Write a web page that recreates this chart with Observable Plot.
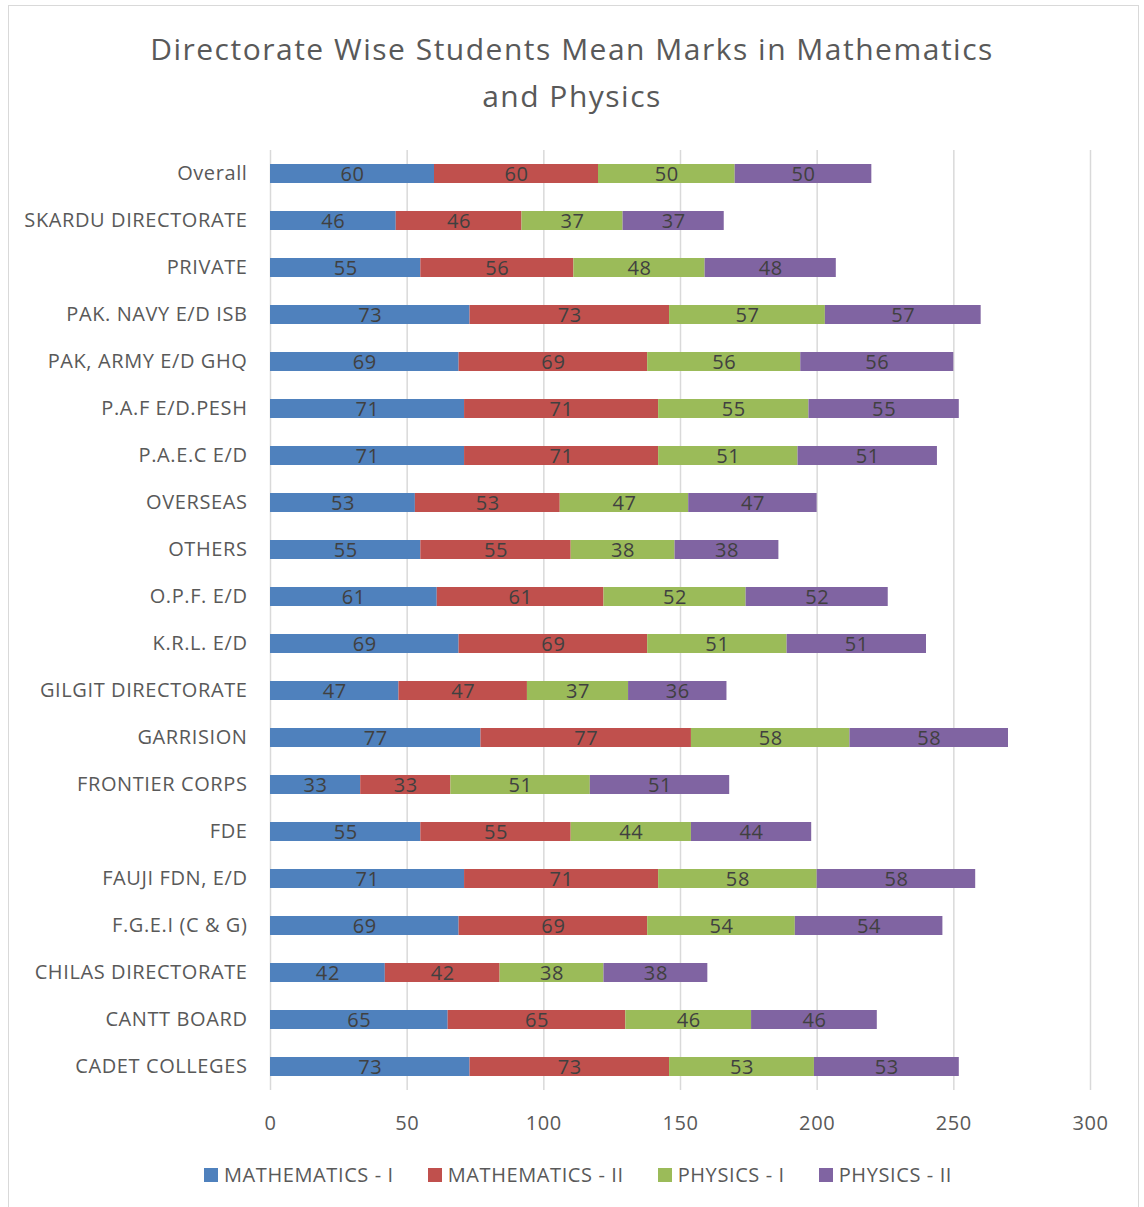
<!DOCTYPE html>
<html><head><meta charset="utf-8">
<script src="https://cdn.jsdelivr.net/npm/d3@7"></script>
<script src="https://cdn.jsdelivr.net/npm/@observablehq/plot@0.6"></script>
<style>
body{margin:0;background:#fff;font-family:"Open Sans",Lato,sans-serif;}
#frame{position:absolute;left:8px;top:5px;width:1131px;height:1210px;border:1px solid #d9d9d9;box-sizing:border-box}
#title{position:absolute;left:0;width:1144px;top:25px;text-align:center;font-size:30px;letter-spacing:1.5px;line-height:47px;color:#595959}
#chart{position:absolute;left:0;top:0}
#legend{position:absolute;left:6px;width:1144px;top:1158px;display:flex;justify-content:center}
.leg-swatch{margin-right:34px !important}
.leg-swatch:last-child{margin-right:0 !important}
.leg-swatch svg{margin-right:6px !important}
</style></head>
<body>
<div id="frame"></div>
<div id="chart"></div>
<div id="title">Directorate Wise Students Mean Marks in Mathematics<br>and Physics</div>
<div id="legend"></div>
<script>
const categories = ["Overall","SKARDU DIRECTORATE","PRIVATE","PAK. NAVY E/D ISB","PAK, ARMY E/D GHQ","P.A.F E/D.PESH","P.A.E.C E/D","OVERSEAS","OTHERS","O.P.F. E/D","K.R.L. E/D","GILGIT DIRECTORATE","GARRISION","FRONTIER CORPS","FDE","FAUJI FDN, E/D","F.G.E.I (C & G)","CHILAS DIRECTORATE","CANTT BOARD","CADET COLLEGES"];
const series = ["MATHEMATICS - I","MATHEMATICS - II","PHYSICS - I","PHYSICS - II"];
const colors = ["#4F81BD","#C0504D","#9BBB59","#8064A2"];
const math1 = [60,46,55,73,69,71,71,53,55,61,69,47,77,33,55,71,69,42,65,73];
const math2 = [60,46,56,73,69,71,71,53,55,61,69,47,77,33,55,71,69,42,65,73];
const phys1 = [50,37,48,57,56,55,51,47,38,52,51,37,58,51,44,58,54,38,46,53];
const phys2 = [50,37,48,57,56,55,51,47,38,52,51,36,58,51,44,58,54,38,46,53];
const xTicks = [0,50,100,150,200,250,300];

const seriesValues = [math1, math2, phys1, phys2];
const data = [];
categories.forEach((c, i) => {
  seriesValues.forEach((arr, j) => data.push({category: c, series: series[j], value: arr[i]}));
});

const font = '"Open Sans", Lato, sans-serif';
const chart = Plot.plot({
  width: 1144, height: 1150,
  marginLeft: 270, marginRight: 54, marginTop: 150, marginBottom: 60,
  style: {fontFamily: font, fontSize: "20px", letterSpacing: "0.6px", color: "#595959", background: "transparent"},
  x: {domain: [0, 300], ticks: xTicks, tickSize: 0, tickPadding: 25, label: null},
  y: {domain: categories, paddingInner: 0.6, paddingOuter: 0.3, tickSize: 0, tickPadding: 23, label: null},
  color: {domain: series, range: colors},
  marks: [
    Plot.gridX(xTicks, {stroke: "#d9d9d9", strokeOpacity: 1, strokeWidth: 1.5}),
    Plot.barX(data, Plot.stackX({x: "value", y: "category", fill: "series"})),
    Plot.text(data, Plot.stackX({x: "value", y: "category", text: d => String(d.value), fill: "#404040", dy: 1}))
  ]
});
document.getElementById("chart").appendChild(chart);

const leg = Plot.legend({
  color: {domain: series, range: colors},
  legend: "swatches", swatchSize: 14, className: "leg",
  style: {fontSize: "20px", letterSpacing: "0.6px", fontFamily: font, color: "#595959"}
});
document.getElementById("legend").appendChild(leg);
</script>
</body></html>
